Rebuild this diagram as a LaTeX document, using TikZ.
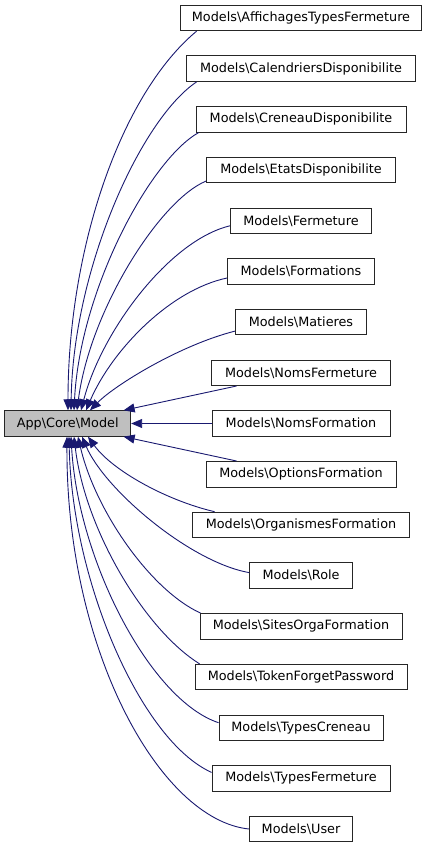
\documentclass[tikz,border=0pt]{standalone}
\usepackage{fontspec}
\setmainfont{DejaVu Sans}
\usetikzlibrary{arrows.meta,calc}
\definecolor{edgeblue}{HTML}{191970}
\definecolor{basefill}{HTML}{BFBFBF}
\begin{document}
\begin{tikzpicture}[x=1pt,y=-1pt,
  cls/.style={draw=black!85, line width=0.9pt, minimum height=25.5pt, inner sep=0pt,
    font=\fontsize{12.8pt}{15pt}\selectfont},
  basecls/.style={cls, fill=basefill},
  edge/.style={draw=edgeblue, line width=0.9pt, -{Triangle[length=11pt,width=9pt]}}]
\useasboundingbox (0,0) rectangle (429,848);

\node[basecls, minimum width=126pt] (base) at (67.7,423.5) {App\textbackslash Core\textbackslash Model};

\node[cls, minimum width=241pt] (n1)  at (301,18.0)  {Models\textbackslash AffichagesTypesFermeture};
\node[cls, minimum width=229pt] (n2)  at (301,68.7)  {Models\textbackslash CalendriersDisponibilite};
\node[cls, minimum width=210pt] (n3)  at (301,119.4) {Models\textbackslash CreneauDisponibilite};
\node[cls, minimum width=189pt] (n4)  at (301,170.1) {Models\textbackslash EtatsDisponibilite};
\node[cls, minimum width=141pt] (n5)  at (301,220.8) {Models\textbackslash Fermeture};
\node[cls, minimum width=147pt] (n6)  at (301,271.5) {Models\textbackslash Formations};
\node[cls, minimum width=131pt] (n7)  at (301,322.1) {Models\textbackslash Matieres};
\node[cls, minimum width=179pt] (n8)  at (301,372.8) {Models\textbackslash NomsFermeture};
\node[cls, minimum width=178pt] (n9)  at (301,423.5) {Models\textbackslash NomsFormation};
\node[cls, minimum width=190pt] (n10) at (301,474.2) {Models\textbackslash OptionsFormation};
\node[cls, minimum width=217pt] (n11) at (301,524.9) {Models\textbackslash OrganismesFormation};
\node[cls, minimum width=103pt] (n12) at (301,575.6) {Models\textbackslash Role};
\node[cls, minimum width=202pt] (n13) at (301,626.3) {Models\textbackslash SitesOrgaFormation};
\node[cls, minimum width=212pt] (n14) at (301,677.0) {Models\textbackslash TokenForgetPassword};
\node[cls, minimum width=164pt] (n15) at (301,727.7) {Models\textbackslash TypesCreneau};
\node[cls, minimum width=178pt] (n16) at (301,778.4) {Models\textbackslash TypesFermeture};
\node[cls, minimum width=103pt] (n17) at (301,829.0) {Models\textbackslash User};

% upper edges
\draw[edge] ($(n1.south west)+(16.5,0)$) .. controls (120,95) and (68,250) .. ($(base.north)+(0.3,0)$);
\draw[edge] ($(n2.south west)+(10.5,0)$) .. controls (140,120) and (73,270) .. ($(base.north)+(3.3,0)$);
\draw[edge] ($(n3.south west)+(3,0)$) .. controls (150,160) and (80,290) .. ($(base.north)+(6.3,0)$);
\draw[edge] ($(n4.west)+(0,11)$) .. controls (160,200) and (90,310) .. ($(base.north)+(9.3,0)$);
\draw[edge] ($(n5.west)+(0,5)$) .. controls (170,240) and (102,330) .. ($(base.north)+(13.3,0)$);
\draw[edge] ($(n6.west)+(0,6.5)$) .. controls (170,290) and (112,350) .. ($(base.north)+(18.3,0)$);
\draw[edge] ($(n7.west)+(0,9)$) .. controls (180,345) and (115,385) .. ($(base.north)+(22.3,0)$);
\draw[edge] ($(n8.south west)+(25.5,0)$) -- ($(base.north east)+(-7.5,0)$);
\draw[edge] (n9.west) -- (base.east);
\draw[edge] ($(n10.north west)+(31,0)$) -- ($(base.south east)+(-7.5,0)$);
% lower edges
\draw[edge] ($(n11.north west)+(22.5,0)$) .. controls (165,500) and (112,470) .. ($(base.south)+(20.3,0)$);
\draw[edge] ($(n12.west)+(0,-3)$) .. controls (190,562) and (105,490) .. ($(base.south)+(14.3,0)$);
\draw[edge] ($(n13.north west)+(1,0)$) .. controls (150,590) and (95,510) .. ($(base.south)+(10.3,0)$);
\draw[edge] ($(n14.north west)+(5,0)$) .. controls (145,630) and (85,530) .. ($(base.south)+(6.3,0)$);
\draw[edge] ($(n15.west)+(0,-5)$) .. controls (150,700) and (78,560) .. ($(base.south)+(3.3,0)$);
\draw[edge] ($(n16.west)+(0,-6)$) .. controls (140,740) and (72,580) .. ($(base.south)+(1.3,0)$);
\draw[edge] (n17.west) .. controls (160,820) and (66,650) .. ($(base.south)+(-0.7,0)$);
\end{tikzpicture}
\end{document}
